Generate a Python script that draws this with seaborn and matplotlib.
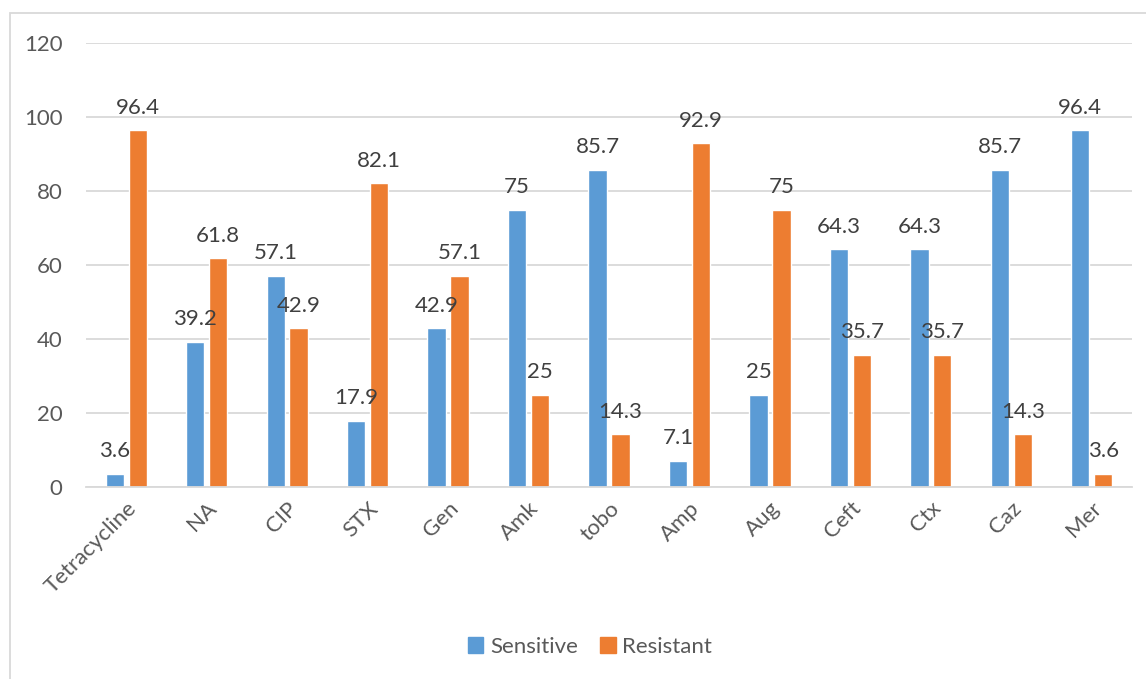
import matplotlib
matplotlib.use("Agg")
import matplotlib.pyplot as plt
import seaborn as sns
import pandas as pd
from matplotlib.patches import Rectangle

categories = ["Tetracycline", "NA", "CIP", "STX", "Gen", "Amk", "tobo",
              "Amp", "Aug", "Ceft", "Ctx", "Caz", "Mer"]
sensitive = [3.6, 39.2, 57.1, 17.9, 42.9, 75, 85.7, 7.1, 25, 64.3, 64.3, 85.7, 96.4]
resistant = [96.4, 61.8, 42.9, 82.1, 57.1, 25, 14.3, 92.9, 75, 35.7, 35.7, 14.3, 3.6]
series_names = ["Sensitive", "Resistant"]
yticks = [0, 20, 40, 60, 80, 100, 120]

df = pd.DataFrame({
    "cat": categories * 2,
    "val": sensitive + resistant,
    "series": [series_names[0]] * len(categories) + [series_names[1]] * len(categories),
})

sns.set_theme(style="white")
plt.rcParams["font.family"] = ["Lato", "DejaVu Sans"]

W, H = 1146, 679
fig = plt.figure(figsize=(W / 100, H / 100), dpi=100)
ax = fig.add_axes([86 / W, 1 - 487 / H, (1132 - 86) / W, (487 - 43) / H])

palette = {"Sensitive": "#5B9BD5", "Resistant": "#ED7D31"}
sns.barplot(data=df, x="cat", y="val", hue="series", palette=palette,
            width=0.57, gap=0.2, ax=ax, legend=False, saturation=1)

ax.set_ylim(0, 120)
ax.set_xlim(-0.5, len(categories) - 0.5)
ax.set_yticks(yticks)
ax.set_yticklabels([str(t) for t in yticks])
ax.set_xlabel("")
ax.set_ylabel("")
for s in ["top", "right", "left"]:
    ax.spines[s].set_visible(False)
ax.spines["bottom"].set_color("#d9d9d9")
ax.spines["bottom"].set_linewidth(1.3)
ax.yaxis.grid(True, color="#d9d9d9", linewidth=1.3)
ax.set_axisbelow(True)
ax.tick_params(axis="y", length=0, pad=17, labelsize=16, labelcolor="#595959")
ax.tick_params(axis="x", length=0, pad=8, labelsize=16, labelcolor="#595959")
for lab in ax.get_xticklabels():
    lab.set_rotation(45)
    lab.set_ha("right")
    lab.set_rotation_mode("anchor")

for cont in ax.containers:
    ax.bar_label(cont, labels=[f"{v:g}" for v in cont.datavalues],
                 padding=9, fontsize=16, color="#404040")

handles = [Rectangle((0, 0), 1, 1, color=palette[n]) for n in series_names]
fig.legend(handles, series_names, loc="center", bbox_to_anchor=(590 / W, 1 - 647 / H),
           ncol=2, frameon=False, fontsize=16, labelcolor="#595959",
           handlelength=0.7, handleheight=0.7, handletextpad=0.3, columnspacing=1.0)

fig.add_artist(Rectangle((9.5 / W, -0.1), 1.2, 1 - 13 / H + 0.1, transform=fig.transFigure,
                         fill=False, edgecolor="#d9d9d9", linewidth=1.3))

fig.savefig("out.png", dpi=100)
